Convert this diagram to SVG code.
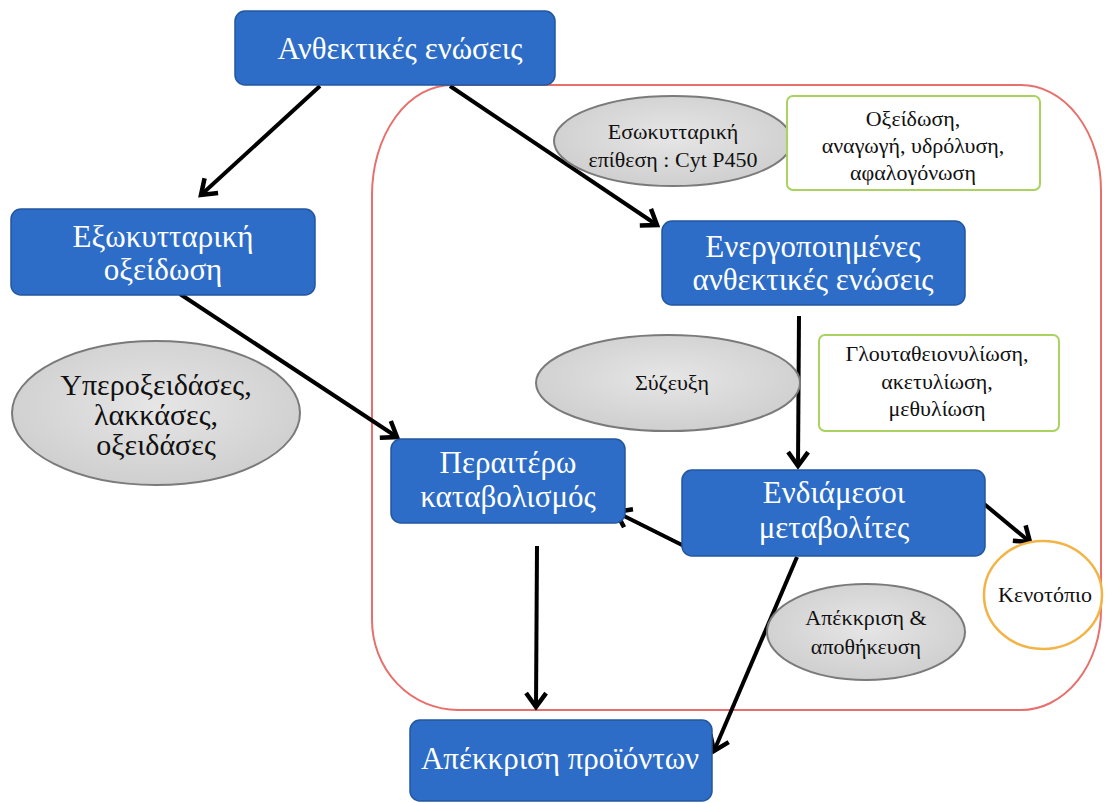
<svg xmlns="http://www.w3.org/2000/svg" width="1105" height="803" viewBox="0 0 1105 803">
<defs>
<style>
.box{fill:#2D6DC7;stroke:#22579F;stroke-width:1.5}
.bt{font-family:"Liberation Serif","Times New Roman",serif;font-size:31px;fill:#fff;text-anchor:middle}
.ell{fill:url(#gg);stroke:#7a7a7a;stroke-width:2}
.gt{font-family:"Liberation Serif","Times New Roman",serif;font-size:22px;fill:#111;text-anchor:middle}
.big{font-size:30px}
.grn{fill:#fff;stroke:#A9D35E;stroke-width:2}
.con{stroke:#000;stroke-width:4;fill:none;marker-end:url(#ah)}
</style>
<radialGradient id="gg" cx="50%" cy="45%" r="60%">
<stop offset="0" stop-color="#e6e6e6"/>
<stop offset="1" stop-color="#cdcdcd"/>
</radialGradient>
<marker id="ah" markerUnits="userSpaceOnUse" viewBox="-20 -14 24 28" refX="0" refY="0" markerWidth="24" markerHeight="28" orient="auto">
<path d="M-14,-10 L0,0 L-14,10" fill="none" stroke="#000" stroke-width="4.5" stroke-linejoin="miter"/>
</marker>
</defs>
<rect width="1105" height="803" fill="#fff"/>
<path id="container" d="M452,85 L1021,85 A80,105 0 0 1 1101,190 L1101,610 A80,100 0 0 1 1021,710 L458,710 A86,90 0 0 1 372,620 L372,195 A80,110 0 0 1 452,85 Z" fill="none" stroke="#E8706C" stroke-width="2"/>
<g id="connectors">
<line class="con" x1="320" y1="86" x2="201" y2="195"/>
<line class="con" x1="450" y1="86" x2="657" y2="225"/>
<line class="con" x1="180" y1="294" x2="397" y2="437"/>
<line class="con" x1="799" y1="316" x2="798" y2="466"/>
<line class="con" x1="684" y1="546" x2="616" y2="512"/>
<line class="con" x1="983" y1="503" x2="1030" y2="542"/>
<line class="con" x1="537" y1="546" x2="536" y2="707"/>
<line class="con" x1="797" y1="557" x2="714" y2="751"/>
</g>
<g id="n1"><rect class="box" x="235" y="11" width="320" height="74" rx="10"/><text class="bt" x="400" y="59">Ανθεκτικές ενώσεις</text></g>
<g id="n2"><rect class="box" x="11" y="209" width="304" height="86" rx="10"/><text class="bt" x="163" y="247">Εξωκυτταρική</text><text class="bt" x="163" y="280">οξείδωση</text></g>
<g id="n3"><ellipse class="ell" cx="156" cy="413" rx="144" ry="72"/><text class="gt big" x="156" y="395">Υπεροξειδάσες,</text><text class="gt big" x="156" y="425">λακκάσες,</text><text class="gt big" x="156" y="455">οξειδάσες</text></g>
<g id="n4"><ellipse class="ell" cx="673" cy="141" rx="119" ry="45"/><text class="gt" x="673" y="139">Εσωκυτταρική</text><text class="gt" x="673" y="167">επίθεση : Cyt P450</text></g>
<g id="n5"><rect class="grn" x="787" y="96" width="253" height="94" rx="6"/><text class="gt" x="913" y="126">Οξείδωση,</text><text class="gt" x="913" y="153">αναγωγή, υδρόλυση,</text><text class="gt" x="913" y="180">αφαλογόνωση</text></g>
<g id="n6"><rect class="box" x="662" y="221" width="303" height="84" rx="10"/><text class="bt" x="813" y="257">Ενεργοποιημένες</text><text class="bt" x="813" y="290">ανθεκτικές ενώσεις</text></g>
<g id="n7"><ellipse class="ell" cx="668" cy="383" rx="132" ry="48"/><text class="gt" x="672" y="390">Σύζευξη</text></g>
<g id="n8"><rect class="grn" x="819" y="335" width="240" height="96" rx="6"/><text class="gt" x="937" y="361">Γλουταθειονυλίωση,</text><text class="gt" x="937" y="389">ακετυλίωση,</text><text class="gt" x="937" y="416">μεθυλίωση</text></g>
<g id="n9"><rect class="box" x="391" y="439" width="234" height="84" rx="10"/><text class="bt" x="508" y="473">Περαιτέρω</text><text class="bt" x="508" y="507">καταβολισμός</text></g>
<g id="n10"><rect class="box" x="682" y="470" width="303" height="86" rx="10"/><text class="bt" x="834" y="503">Ενδιάμεσοι</text><text class="bt" x="834" y="538">μεταβολίτες</text></g>
<g id="n11"><ellipse cx="1043" cy="595" rx="59" ry="54" fill="#fff" stroke="#F2B347" stroke-width="2.5"/><text class="gt" x="1045" y="602">Κενοτόπιο</text></g>
<g id="n12"><ellipse class="ell" cx="866" cy="632" rx="99" ry="48"/><text class="gt" x="866" y="625">Απέκκριση &amp;</text><text class="gt" x="866" y="654">αποθήκευση</text></g>
<g id="n13"><rect class="box" x="410" y="720" width="302" height="81" rx="10"/><text class="bt" x="560" y="769">Απέκκριση προϊόντων</text></g>
</svg>
